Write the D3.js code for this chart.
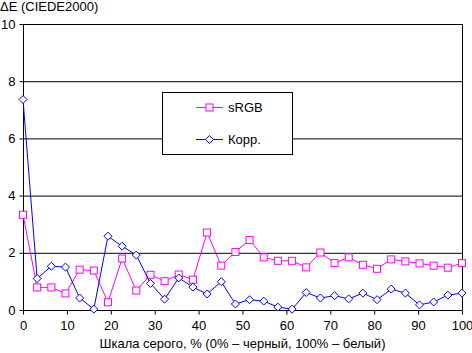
<!DOCTYPE html>
<html><head><meta charset="utf-8">
<script src="https://cdn.jsdelivr.net/npm/d3@7"></script>
<style>body{margin:0;background:#fff}svg{display:block}text{font-family:"Liberation Sans",Arial,sans-serif;font-size:13px;fill:#000}</style>
</head><body><svg id="c" width="472" height="353"></svg>
<script>
const xGray = d3.range(32).map(i => i * 100 / 31);
const srgb = [3.33,0.79,0.79,0.58,1.41,1.38,0.27,1.80,0.68,1.23,1.01,1.24,1.06,2.71,1.55,2.03,2.45,1.84,1.72,1.72,1.49,2.01,1.64,1.84,1.58,1.44,1.77,1.70,1.63,1.55,1.48,1.64];
const korr = [7.36,1.10,1.53,1.50,0.42,0.03,2.58,2.23,1.92,0.93,0.38,1.12,0.80,0.56,0.99,0.21,0.36,0.31,0.10,0.03,0.61,0.42,0.50,0.39,0.59,0.36,0.73,0.59,0.18,0.28,0.52,0.59];
const xTicks = [0,10,20,30,40,50,60,70,80,90,100];
const yTicks = [0,2,4,6,8,10];
const seriesNames = ["sRGB","Корр."];
const yTitle = "ΔE (CIEDE2000)";
const xTitle = "Шкала серого, % (0% – черный, 100% – белый)";

const svg = d3.select("#c");
const L = 23, R = 462, T = 24, B = 310;
const x = d3.scaleLinear().domain([0,100]).range([L,R]);
const y = d3.scaleLinear().domain([0,10]).range([B,T]);

// grid
svg.append("g").selectAll("line").data(yTicks.filter(d=>d>0)).join("line")
  .attr("x1",L).attr("x2",R).attr("y1",d=>y(d)+0.5).attr("y2",d=>y(d)+0.5)
  .attr("stroke","#000").attr("stroke-width",1);
// right border
svg.append("line").attr("x1",R+0.5).attr("x2",R+0.5).attr("y1",T).attr("y2",B).attr("stroke","#000");

const ax = svg.append("g").attr("transform",`translate(0,${B+0.5})`)
  .call(d3.axisBottom(x).tickValues(xTicks).tickSize(4).tickPadding(6).tickFormat(d3.format("d")));
const ay = svg.append("g").attr("transform",`translate(${L+0.5},0)`)
  .call(d3.axisLeft(y).tickValues(yTicks).tickSize(4).tickPadding(4).tickFormat(d3.format("d")));
[ax,ay].forEach(g=>{g.selectAll("path,line").attr("stroke","#000").attr("stroke-width",1);
  g.selectAll("text").style("font-size","13px").attr("fill","#000").style("font-family","'Liberation Sans',Arial,sans-serif");});
ay.select(".domain").attr("d",`M0,${T}V${B}`);
ax.select(".domain").attr("d",`M${L},0H${R}`);

const line = d3.line().x((d,i)=>x(xGray[i])).y(d=>y(d));
const diamond = (cx,cy,s) => `M${cx},${cy-s}L${cx+s},${cy}L${cx},${cy+s}L${cx-s},${cy}Z`;
const plot = svg.append("g");
// sRGB first
plot.append("path").datum(srgb).attr("d",line).attr("fill","none").attr("stroke","#ff00ff").attr("stroke-width",1);
plot.append("g").selectAll("rect").data(srgb).join("rect")
  .attr("x",(d,i)=>x(xGray[i])-3.5).attr("y",d=>y(d)-3.5).attr("width",7).attr("height",7)
  .attr("fill","#fff").attr("stroke","#ff00ff");
// Korr on top
plot.append("path").datum(korr).attr("d",line).attr("fill","none").attr("stroke","#0000ff").attr("stroke-width",1);
plot.append("g").selectAll("path").data(korr).join("path")
  .attr("d",(d,i)=>diamond(x(xGray[i]),y(d),4)).attr("fill","#fff").attr("stroke","#0000ff");

// legend
const lg = svg.append("g");
lg.append("rect").attr("x",162.5).attr("y",92.5).attr("width",130).attr("height",62).attr("fill","#fff").attr("stroke","#000");
const ly = [107.5,139.5], cols = ["#ff00ff","#0000ff"];
seriesNames.forEach((n,i)=>{
  lg.append("line").attr("x1",196).attr("x2",223).attr("y1",ly[i]).attr("y2",ly[i]).attr("stroke",cols[i]);
  if(i===0) lg.append("rect").attr("x",206).attr("y",ly[i]-3.5).attr("width",7).attr("height",7).attr("fill","#fff").attr("stroke",cols[i]);
  else lg.append("path").attr("d",diamond(209.5,ly[i],4)).attr("fill","#fff").attr("stroke",cols[i]);
  lg.append("text").attr("x",228).attr("y",ly[i]+4.5).text(n);
});

svg.append("text").attr("x",0).attr("y",11).text(yTitle);
svg.append("text").attr("x",(L+R)/2).attr("y",348).attr("text-anchor","middle").text(xTitle);
</script></body></html>
